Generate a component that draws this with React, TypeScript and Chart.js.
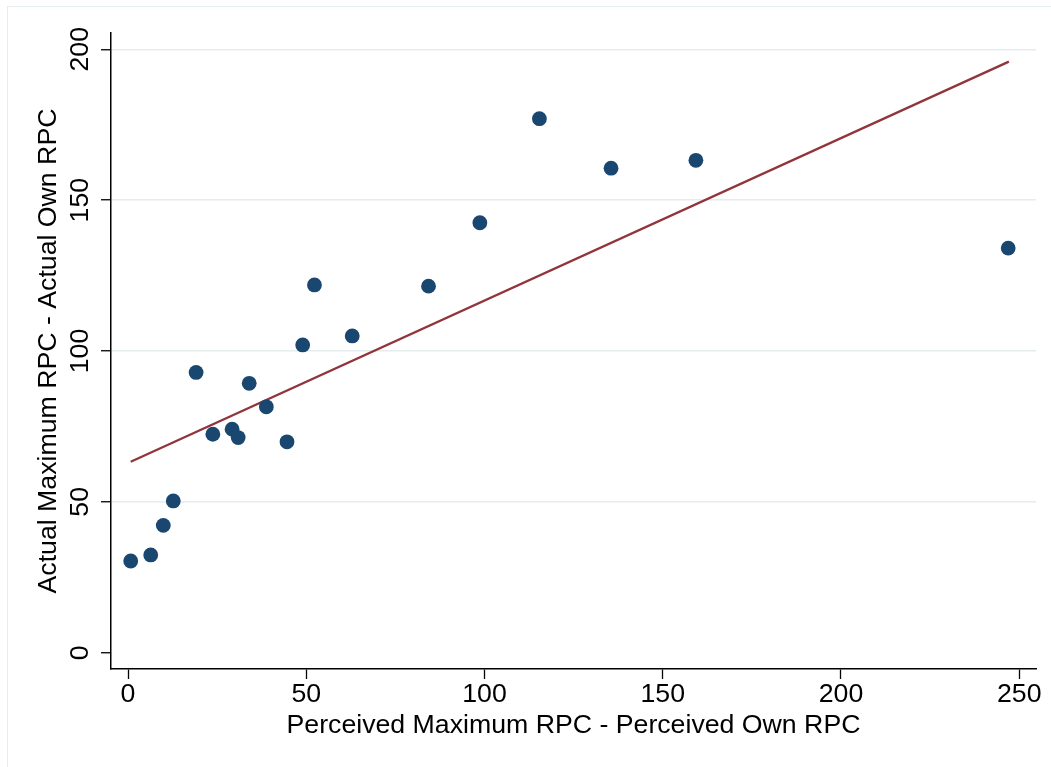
import React, { useEffect, useRef } from 'react';
import { Chart, registerables } from 'chart.js';

Chart.register(...registerables);

const perceivedGap = [0.76, 6.37, 9.9, 12.7, 19.1, 23.8, 29.2, 30.9, 34.0, 38.8, 44.6, 49.0, 52.3, 62.9, 84.3, 98.7, 115.4, 135.5, 159.3, 246.9];
const actualGap = [30.4, 32.4, 42.2, 50.3, 92.9, 72.4, 74.1, 71.3, 89.3, 81.5, 69.9, 102.0, 121.9, 105.0, 121.5, 142.5, 177.0, 160.6, 163.2, 134.1];
const fitX = [0.76, 247.1];
const fitY = [63.3, 195.9];
const xTicks = [0, 50, 100, 150, 200, 250];
const yTicks = [0, 50, 100, 150, 200];
const xTitle = 'Perceived Maximum RPC - Perceived Own RPC';
const yTitle = 'Actual Maximum RPC - Actual Own RPC';

const FONT = "'Liberation Sans', Arial, Helvetica, sans-serif";
const FS = 26.7;

export default function App() {
  const ref = useRef<HTMLCanvasElement | null>(null);

  useEffect(() => {
    if (!ref.current) return;

    const framePlugin = {
      id: 'frame',
      beforeDraw(chart: any) {
        const ctx = chart.ctx;
        ctx.save();
        ctx.fillStyle = '#ffffff';
        ctx.fillRect(0, 0, chart.width, chart.height);
        ctx.strokeStyle = '#e6edf1';
        ctx.lineWidth = 1;
        ctx.strokeRect(7.5, 6.5, 3000, 3000);
        ctx.restore();
      },
    };

    const yLabelPlugin = {
      id: 'yLabels',
      afterDraw(chart: any) {
        const ctx = chart.ctx;
        const scale = chart.scales.y;
        ctx.save();
        ctx.fillStyle = '#000000';
        ctx.font = `${FS}px ${FONT}`;
        ctx.textAlign = 'center';
        ctx.textBaseline = 'alphabetic';
        scale.ticks.forEach((t: any) => {
          const py = scale.getPixelForValue(t.value);
          ctx.save();
          ctx.translate(88, py);
          ctx.rotate(-Math.PI / 2);
          ctx.fillText(String(t.value), 0, 0);
          ctx.restore();
        });
        ctx.restore();
      },
    };

    const chart = new Chart(ref.current, {
      type: 'scatter',
      data: {
        datasets: [
          {
            label: 'points',
            data: perceivedGap.map((x, i) => ({ x, y: actualGap[i] })),
            backgroundColor: '#1a476f',
            borderColor: '#1a476f',
            pointRadius: 7.4,
            pointBorderWidth: 0,
            pointHoverRadius: 7.4,
          },
          {
            label: 'fit',
            type: 'line',
            data: fitX.map((x, i) => ({ x, y: fitY[i] })),
            borderColor: '#90353b',
            borderWidth: 2.3,
            pointRadius: 0,
            showLine: true,
            fill: false,
          } as any,
        ],
      },
      options: {
        animation: false,
        responsive: true,
        maintainAspectRatio: false,
        layout: { padding: { top: 33, right: 15, left: 0, bottom: 0 } },
        plugins: {
          legend: { display: false },
          tooltip: { enabled: false },
        },
        scales: {
          x: {
            type: 'linear',
            min: -4.77,
            max: 254.7,
            afterBuildTicks: (s: any) => {
              s.ticks = xTicks.map((v) => ({ value: v }));
            },
            afterFit: (s: any) => {
              s.height = 98;
            },
            grid: {
              drawOnChartArea: false,
              drawTicks: true,
              tickLength: 10,
              tickColor: '#000000',
              tickWidth: 1.3,
            },
            border: { display: true, color: '#000000', width: 1.5 },
            ticks: {
              color: '#000000',
              font: { family: FONT, size: FS, lineHeight: 1.2 },
              padding: 0,
              maxRotation: 0,
              minRotation: 0,
            },
            title: {
              display: true,
              text: xTitle,
              color: '#000000',
              font: { family: FONT, size: FS, lineHeight: 1.2 },
              padding: { top: 0, bottom: 25 },
            },
          },
          y: {
            type: 'linear',
            min: -5.4,
            max: 205.4,
            afterBuildTicks: (s: any) => {
              s.ticks = yTicks.map((v) => ({ value: v }));
            },
            afterFit: (s: any) => {
              s.width = 111;
            },
            grid: {
              drawOnChartArea: true,
              drawTicks: true,
              tickLength: 10,
              tickColor: '#000000',
              tickWidth: 1.3,
              lineWidth: 1.5,
              color: (c: any) => (c.tick && c.tick.value === 0 ? 'rgba(0,0,0,0)' : '#e4eced'),
            },
            border: { display: true, color: '#000000', width: 1.5 },
            ticks: {
              display: true,
              color: 'rgba(0,0,0,0)',
              font: { family: FONT, size: FS },
            },
            title: {
              display: true,
              text: yTitle,
              color: '#000000',
              font: { family: FONT, size: FS, lineHeight: 1.2 },
              padding: { top: 33, bottom: 0 },
            },
          },
        },
      },
      plugins: [framePlugin, yLabelPlugin],
    });

    return () => {
      chart.destroy();
    };
  }, []);

  return (
    <div style={{ position: 'absolute', left: 0, top: 0, width: 1051, height: 767, background: '#fff' }}>
      <canvas ref={ref} />
    </div>
  );
}
